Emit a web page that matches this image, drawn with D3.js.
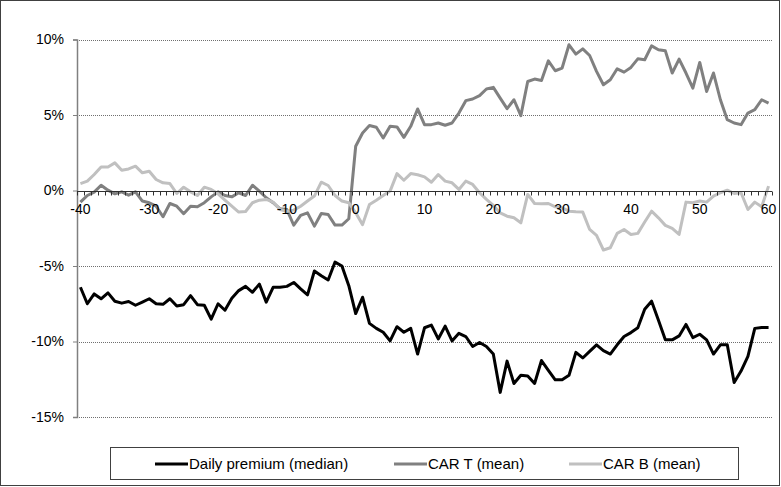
<!DOCTYPE html>
<html>
<head>
<meta charset="utf-8">
<script src="https://cdn.jsdelivr.net/npm/d3@7"></script>
<style>
  html, body { margin: 0; padding: 0; background: #fff; }
  svg { display: block; font-family: "Liberation Sans", Arial, sans-serif; }
</style>
</head>
<body>
<svg id="chart" width="781" height="487"></svg>
<script>
// Event days around the announcement
const days = d3.range(-40, 61);

// Daily premium (median), in %
const premium = [
  -6.41, -7.5, -6.85, -7.17, -6.78, -7.33, -7.46, -7.35, -7.6, -7.39,
  -7.17, -7.5, -7.54, -7.17, -7.65, -7.56, -6.96, -7.56, -7.6, -8.52,
  -7.5, -7.93, -7.13, -6.63, -6.35, -6.74, -6.2, -7.39, -6.41, -6.41,
  -6.35, -6.09, -6.52, -6.91, -5.33, -5.65, -5.93, -4.74, -5.0, -6.3,
  -8.15, -7.07, -8.8, -9.13, -9.39, -9.96, -9.02, -9.39, -9.13, -10.83,
  -9.09, -8.91, -9.83, -8.98, -9.96, -9.46, -9.67, -10.33, -10.07, -10.33,
  -10.83, -13.37, -11.3, -12.78, -12.24, -12.28, -12.78, -11.26, -11.91, -12.54,
  -12.54, -12.24, -10.72, -11.09, -10.65, -10.22, -10.61, -10.83, -10.22, -9.67,
  -9.41, -9.09, -7.87, -7.33, -8.59, -9.89, -9.89, -9.63, -8.87, -9.74,
  -9.52, -9.89, -10.83, -10.22, -10.22, -12.72, -11.96, -10.98, -9.13, -9.07, -9.07
];

// CAR T (mean), in %
const carT = [
  -0.77, -0.33, -0.11, 0.35, 0.02, -0.22, -0.09, -0.31, -0.09, -0.7,
  -0.81, -1.04, -1.74, -0.86, -1.04, -1.54, -1.04, -1.08, -0.81, -0.42,
  -0.09, -0.33, -0.42, -0.15, -0.33, 0.35, -0.04, -0.48, -0.81, -1.21,
  -1.26, -2.3, -1.65, -1.48, -2.36, -1.52, -1.59, -2.29, -2.29, -1.87,
  2.93, 3.81, 4.3, 4.19, 3.48, 4.25, 4.21, 3.52, 4.25, 5.4,
  4.36, 4.36, 4.47, 4.32, 4.47, 5.13, 5.95, 6.06, 6.28, 6.72,
  6.83, 6.12, 5.42, 6.01, 4.96, 7.22, 7.38, 7.29, 8.59, 7.93,
  8.11, 9.65, 9.03, 9.38, 8.94, 7.89, 7.0, 7.33, 8.06, 7.84,
  8.15, 8.72, 8.66, 9.58, 9.32, 9.25, 7.78, 8.7, 7.78, 6.78,
  8.48, 6.56, 7.78, 6.01, 4.69, 4.47, 4.36, 5.13, 5.35, 6.01, 5.79
];

// CAR B (mean), in %
const carB = [
  0.46, 0.62, 1.06, 1.56, 1.56, 1.83, 1.34, 1.43, 1.61, 1.17,
  1.28, 0.73, 0.51, 0.46, -0.2, 0.22, -0.09, -0.33, 0.22, 0.07,
  -0.22, -0.64, -1.04, -1.43, -1.39, -0.81, -0.64, -0.59, -0.77, -1.26,
  -1.37, -1.3, -1.04, -0.7, -0.37, 0.55, 0.33, -0.33, -0.7, -0.81,
  -1.48, -2.26, -0.93, -0.64, -0.33, -0.04, 1.12, 0.68, 1.12, 1.04,
  0.9, 0.55, 1.06, 0.62, 0.51, 0.07, 0.62, 0.4, -0.15, -0.59,
  -0.99, -1.48, -1.7, -1.81, -2.14, -0.26, -0.86, -0.88, -0.86, -1.08,
  -1.15, -1.37, -1.41, -1.43, -2.58, -2.97, -3.94, -3.79, -2.84, -2.58,
  -2.91, -2.84, -2.09, -1.37, -1.81, -2.31, -2.51, -2.91, -0.77, -0.81,
  -0.7, -0.77, -0.37, -0.15, 0.02, -0.2, -0.15, -1.26, -0.77, -1.08, 0.29
];

const yTicks = [-15, -10, -5, 0, 5, 10];
const xLabels = [-40, -30, -20, -10, 0, 10, 20, 30, 40, 50, 60];

const seriesList = [
  { name: "Daily premium (median)", values: premium, color: "#000000" },
  { name: "CAR T (mean)", values: carT, color: "#808080" },
  { name: "CAR B (mean)", values: carB, color: "#c0c0c0" }
];

const svg = d3.select("#chart");
const W = 781, H = 487;
const plot = { left: 77, right: 772, top: 39.5, bottom: 417 };

// outer frame
svg.append("rect")
  .attr("x", 0.5).attr("y", 0.5)
  .attr("width", W - 2).attr("height", H - 2)
  .attr("fill", "#fff").attr("stroke", "#404040").attr("stroke-width", 1);

const x = d3.scaleBand().domain(days).range([plot.left, plot.right]).paddingInner(0).paddingOuter(0);
const cx = d => x(d) + x.bandwidth() / 2;
const y = d3.scaleLinear().domain([-15, 10]).range([plot.bottom, plot.top]);

// dotted horizontal gridlines
svg.append("g").selectAll("line")
  .data(yTicks.filter(t => t !== 0))
  .join("line")
  .attr("x1", plot.left).attr("x2", plot.right)
  .attr("y1", d => Math.round(y(d)) + 0.5).attr("y2", d => Math.round(y(d)) + 0.5)
  .attr("stroke", "#707070").attr("stroke-width", 1)
  .attr("stroke-dasharray", "1,1");

// y axis
const yAxis = svg.append("g")
  .attr("transform", `translate(${plot.left},0)`)
  .call(d3.axisLeft(y).tickValues(yTicks).tickFormat(d => d + "%").tickSize(4).tickPadding(9));
yAxis.select(".domain").attr("stroke", "#808080").attr("stroke-width", 1.5);
yAxis.selectAll(".tick line").attr("stroke", "#808080");
yAxis.selectAll(".tick text")
  .attr("font-size", 14).attr("fill", "#000")
  .attr("font-family", "'Liberation Sans', Arial, sans-serif");

// x axis at 0%
const y0 = Math.round(y(0)) + 0.5;
const xAxis = svg.append("g");
xAxis.append("line")
  .attr("x1", plot.left).attr("x2", plot.right)
  .attr("y1", y0).attr("y2", y0)
  .attr("stroke", "#303030").attr("stroke-width", 1);
const boundaries = days.map(d => x(d)).concat([plot.right]);
xAxis.selectAll("line.tk")
  .data(boundaries)
  .join("line")
  .attr("class", "tk")
  .attr("x1", d => Math.round(d) + 0.5).attr("x2", d => Math.round(d) + 0.5)
  .attr("y1", y0).attr("y2", y0 + 4)
  .attr("stroke", "#303030").attr("stroke-width", 1);

// series lines
const line = d3.line().x((v, i) => cx(days[i])).y(v => y(v));
svg.append("g").selectAll("path")
  .data(seriesList)
  .join("path")
  .attr("d", s => line(s.values))
  .attr("fill", "none")
  .attr("stroke", s => s.color)
  .attr("stroke-width", 3)
  .attr("stroke-linejoin", "round");

// x labels drawn above the lines
xAxis.raise();
svg.append("g").selectAll("text")
  .data(xLabels)
  .join("text")
  .attr("x", d => cx(d))
  .attr("y", y0 + 22)
  .attr("text-anchor", "middle")
  .attr("font-size", 14)
  .attr("fill", "#000")
  .text(d => d);

// legend
const lg = svg.append("g");
lg.append("rect")
  .attr("x", 110.5).attr("y", 447.5)
  .attr("width", 628).attr("height", 32)
  .attr("fill", "#fff").attr("stroke", "#404040").attr("stroke-width", 1);
const legendX = [155, 394, 569];
seriesList.forEach((s, i) => {
  lg.append("line")
    .attr("x1", legendX[i]).attr("x2", legendX[i] + 33)
    .attr("y1", 464).attr("y2", 464)
    .attr("stroke", s.color).attr("stroke-width", 3);
  lg.append("text")
    .attr("x", legendX[i] + 34).attr("y", 469)
    .attr("font-size", 15).attr("fill", "#000")
    .text(s.name);
});
</script>
</body>
</html>
